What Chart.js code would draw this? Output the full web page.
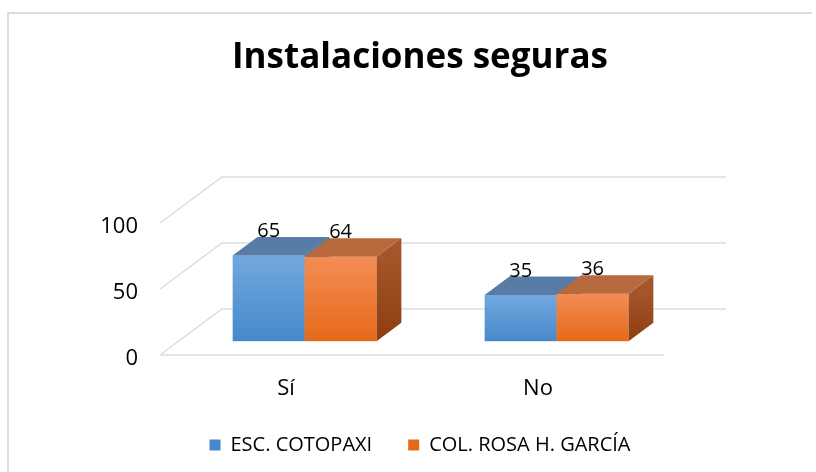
<!DOCTYPE html>
<html>
<head>
<meta charset="utf-8">
<title>Instalaciones seguras</title>
<script src="https://cdn.jsdelivr.net/npm/chart.js@4.4.1/dist/chart.umd.min.js"></script>
<style>
  html, body { margin: 0; padding: 0; background: #fff; }
</style>
</head>
<body>
<canvas id="chart" width="816" height="472"></canvas>
<script>
// Chart data
const categories = ['Sí', 'No'];
const seriesNames = ['ESC. COTOPAXI', 'COL. ROSA H. GARCÍA'];
const cotopaxi = [65, 35];
const rosaGarcia = [64, 36];
const yTicks = [0, 50, 100];

const FONT = '"Open Sans", "Noto Sans", sans-serif';
const GRID = '#d9dde3';

// 3D look: depth of the floor and where the bars sit inside it
const DX = 62, DY = -46;
const BAR_FRONT = 0.3, BAR_DEPTH = 0.4;

const faces = [
  { front: ['#72a8de', '#4689cb'], top: '#577ca6', side: ['#416f9f', '#2f5c89'] },
  { front: ['#f38d55', '#e6691a'], top: '#b86a3f', side: ['#a4552a', '#8d3d0e'] }
];

// Frame around the chart (top and left edges only are visible)
const framePlugin = {
  id: 'frame',
  beforeDraw(chart) {
    const ctx = chart.ctx;
    ctx.save();
    ctx.strokeStyle = GRID;
    ctx.lineWidth = 2;
    ctx.beginPath();
    ctx.moveTo(8, 472);
    ctx.lineTo(8, 13);
    ctx.lineTo(812, 13);
    ctx.stroke();
    ctx.restore();
  }
};

// Back wall, side wall and floor lines
const wallsPlugin = {
  id: 'walls',
  beforeDatasetsDraw(chart) {
    const { ctx, chartArea } = chart;
    const y = chart.scales.y;
    ctx.save();
    ctx.strokeStyle = GRID;
    ctx.lineWidth = 1.5;
    ctx.beginPath();
    yTicks.forEach(v => {
      const py = y.getPixelForValue(v);
      ctx.moveTo(chartArea.left, py);
      ctx.lineTo(chartArea.left + DX, py + DY);
      ctx.lineTo(chartArea.right + DX, py + DY);
    });
    ctx.moveTo(chartArea.left, chartArea.bottom);
    ctx.lineTo(chartArea.right, chartArea.bottom);
    ctx.stroke();
    ctx.restore();
  }
};

function vGrad(ctx, y0, y1, colors) {
  const g = ctx.createLinearGradient(0, y0, 0, y1);
  g.addColorStop(0, colors[0]);
  g.addColorStop(1, colors[1]);
  return g;
}

// Draws each bar as a box, then the value above it
const bar3dPlugin = {
  id: 'bar3d',
  afterDatasetsDraw(chart) {
    const ctx = chart.ctx;
    const ox = DX * BAR_FRONT, oy = DY * BAR_FRONT;
    const dx = DX * BAR_DEPTH, dy = DY * BAR_DEPTH;
    const labels = [];
    chart.data.datasets.forEach((ds, di) => {
      const meta = chart.getDatasetMeta(di);
      const f = faces[di];
      meta.data.forEach((el, i) => {
        const p = el.getProps(['x', 'y', 'base', 'width'], true);
        const left = p.x - p.width / 2 + ox;
        const right = left + p.width;
        const top = p.y + oy;
        const bottom = p.base + oy;
        ctx.save();
        // front
        ctx.fillStyle = vGrad(ctx, top, bottom, f.front);
        ctx.fillRect(left, top, p.width, bottom - top);
        // top
        ctx.fillStyle = f.top;
        ctx.beginPath();
        ctx.moveTo(left, top);
        ctx.lineTo(right, top);
        ctx.lineTo(right + dx, top + dy);
        ctx.lineTo(left + dx, top + dy);
        ctx.closePath();
        ctx.fill();
        // side
        ctx.fillStyle = vGrad(ctx, top, bottom, f.side);
        ctx.beginPath();
        ctx.moveTo(right, top);
        ctx.lineTo(right + dx, top + dy);
        ctx.lineTo(right + dx, bottom + dy);
        ctx.lineTo(right, bottom);
        ctx.closePath();
        ctx.fill();
        ctx.restore();
        labels.push({ x: (left + right) / 2, y: top - 24, text: String(ds.data[i]) });
      });
    });
    ctx.save();
    ctx.fillStyle = '#000';
    ctx.font = '20px ' + FONT;
    ctx.textAlign = 'center';
    ctx.textBaseline = 'middle';
    labels.forEach(l => ctx.fillText(l.text, l.x, l.y));
    ctx.restore();
  }
};

new Chart(document.getElementById('chart'), {
  type: 'bar',
  data: {
    labels: categories,
    datasets: [
      { label: seriesNames[0], data: cotopaxi, backgroundColor: 'rgba(0,0,0,0)', borderWidth: 0 },
      { label: seriesNames[1], data: rosaGarcia, backgroundColor: 'rgba(0,0,0,0)', borderWidth: 0 }
    ]
  },
  options: {
    responsive: false,
    animation: false,
    events: [],
    categoryPercentage: 0.571,
    barPercentage: 1,
    layout: { padding: { left: 24, right: 0, top: 0, bottom: 7 } },
    scales: {
      x: {
        grid: { display: false },
        border: { display: false },
        ticks: { color: '#000', padding: 13, font: { family: FONT, size: 22 } },
        afterFit(s) { s.height = 44; }
      },
      y: {
        min: 0,
        max: 100,
        grid: { display: false },
        border: { display: false },
        ticks: { color: '#000', padding: 14, labelOffset: 4, font: { family: FONT, size: 22 } },
        afterBuildTicks(s) { s.ticks = yTicks.map(v => ({ value: v })); },
        afterFit(s) { s.width = 136; }
      },
      // empty axis that keeps the plot clear of the right side
      yRight: {
        type: 'linear',
        position: 'right',
        grid: { display: false },
        border: { display: false },
        ticks: { display: false },
        afterFit(s) { s.width = 152; }
      }
    },
    plugins: {
      title: {
        display: true,
        text: 'Instalaciones seguras',
        color: '#000',
        font: { family: FONT, size: 35, weight: 'bold' },
        padding: { top: 37, bottom: 144 }
      },
      legend: {
        position: 'bottom',
        labels: {
          color: '#000',
          boxWidth: 11,
          boxHeight: 11,
          padding: 36,
          font: { family: FONT, size: 20 },
          generateLabels() {
            return seriesNames.map((name, i) => ({
              text: name,
              fillStyle: faces[i].front[1],
              strokeStyle: faces[i].front[1],
              lineWidth: 0,
              datasetIndex: i
            }));
          }
        }
      },
      tooltip: { enabled: false }
    }
  },
  plugins: [framePlugin, wallsPlugin, bar3dPlugin]
});
</script>
</body>
</html>
